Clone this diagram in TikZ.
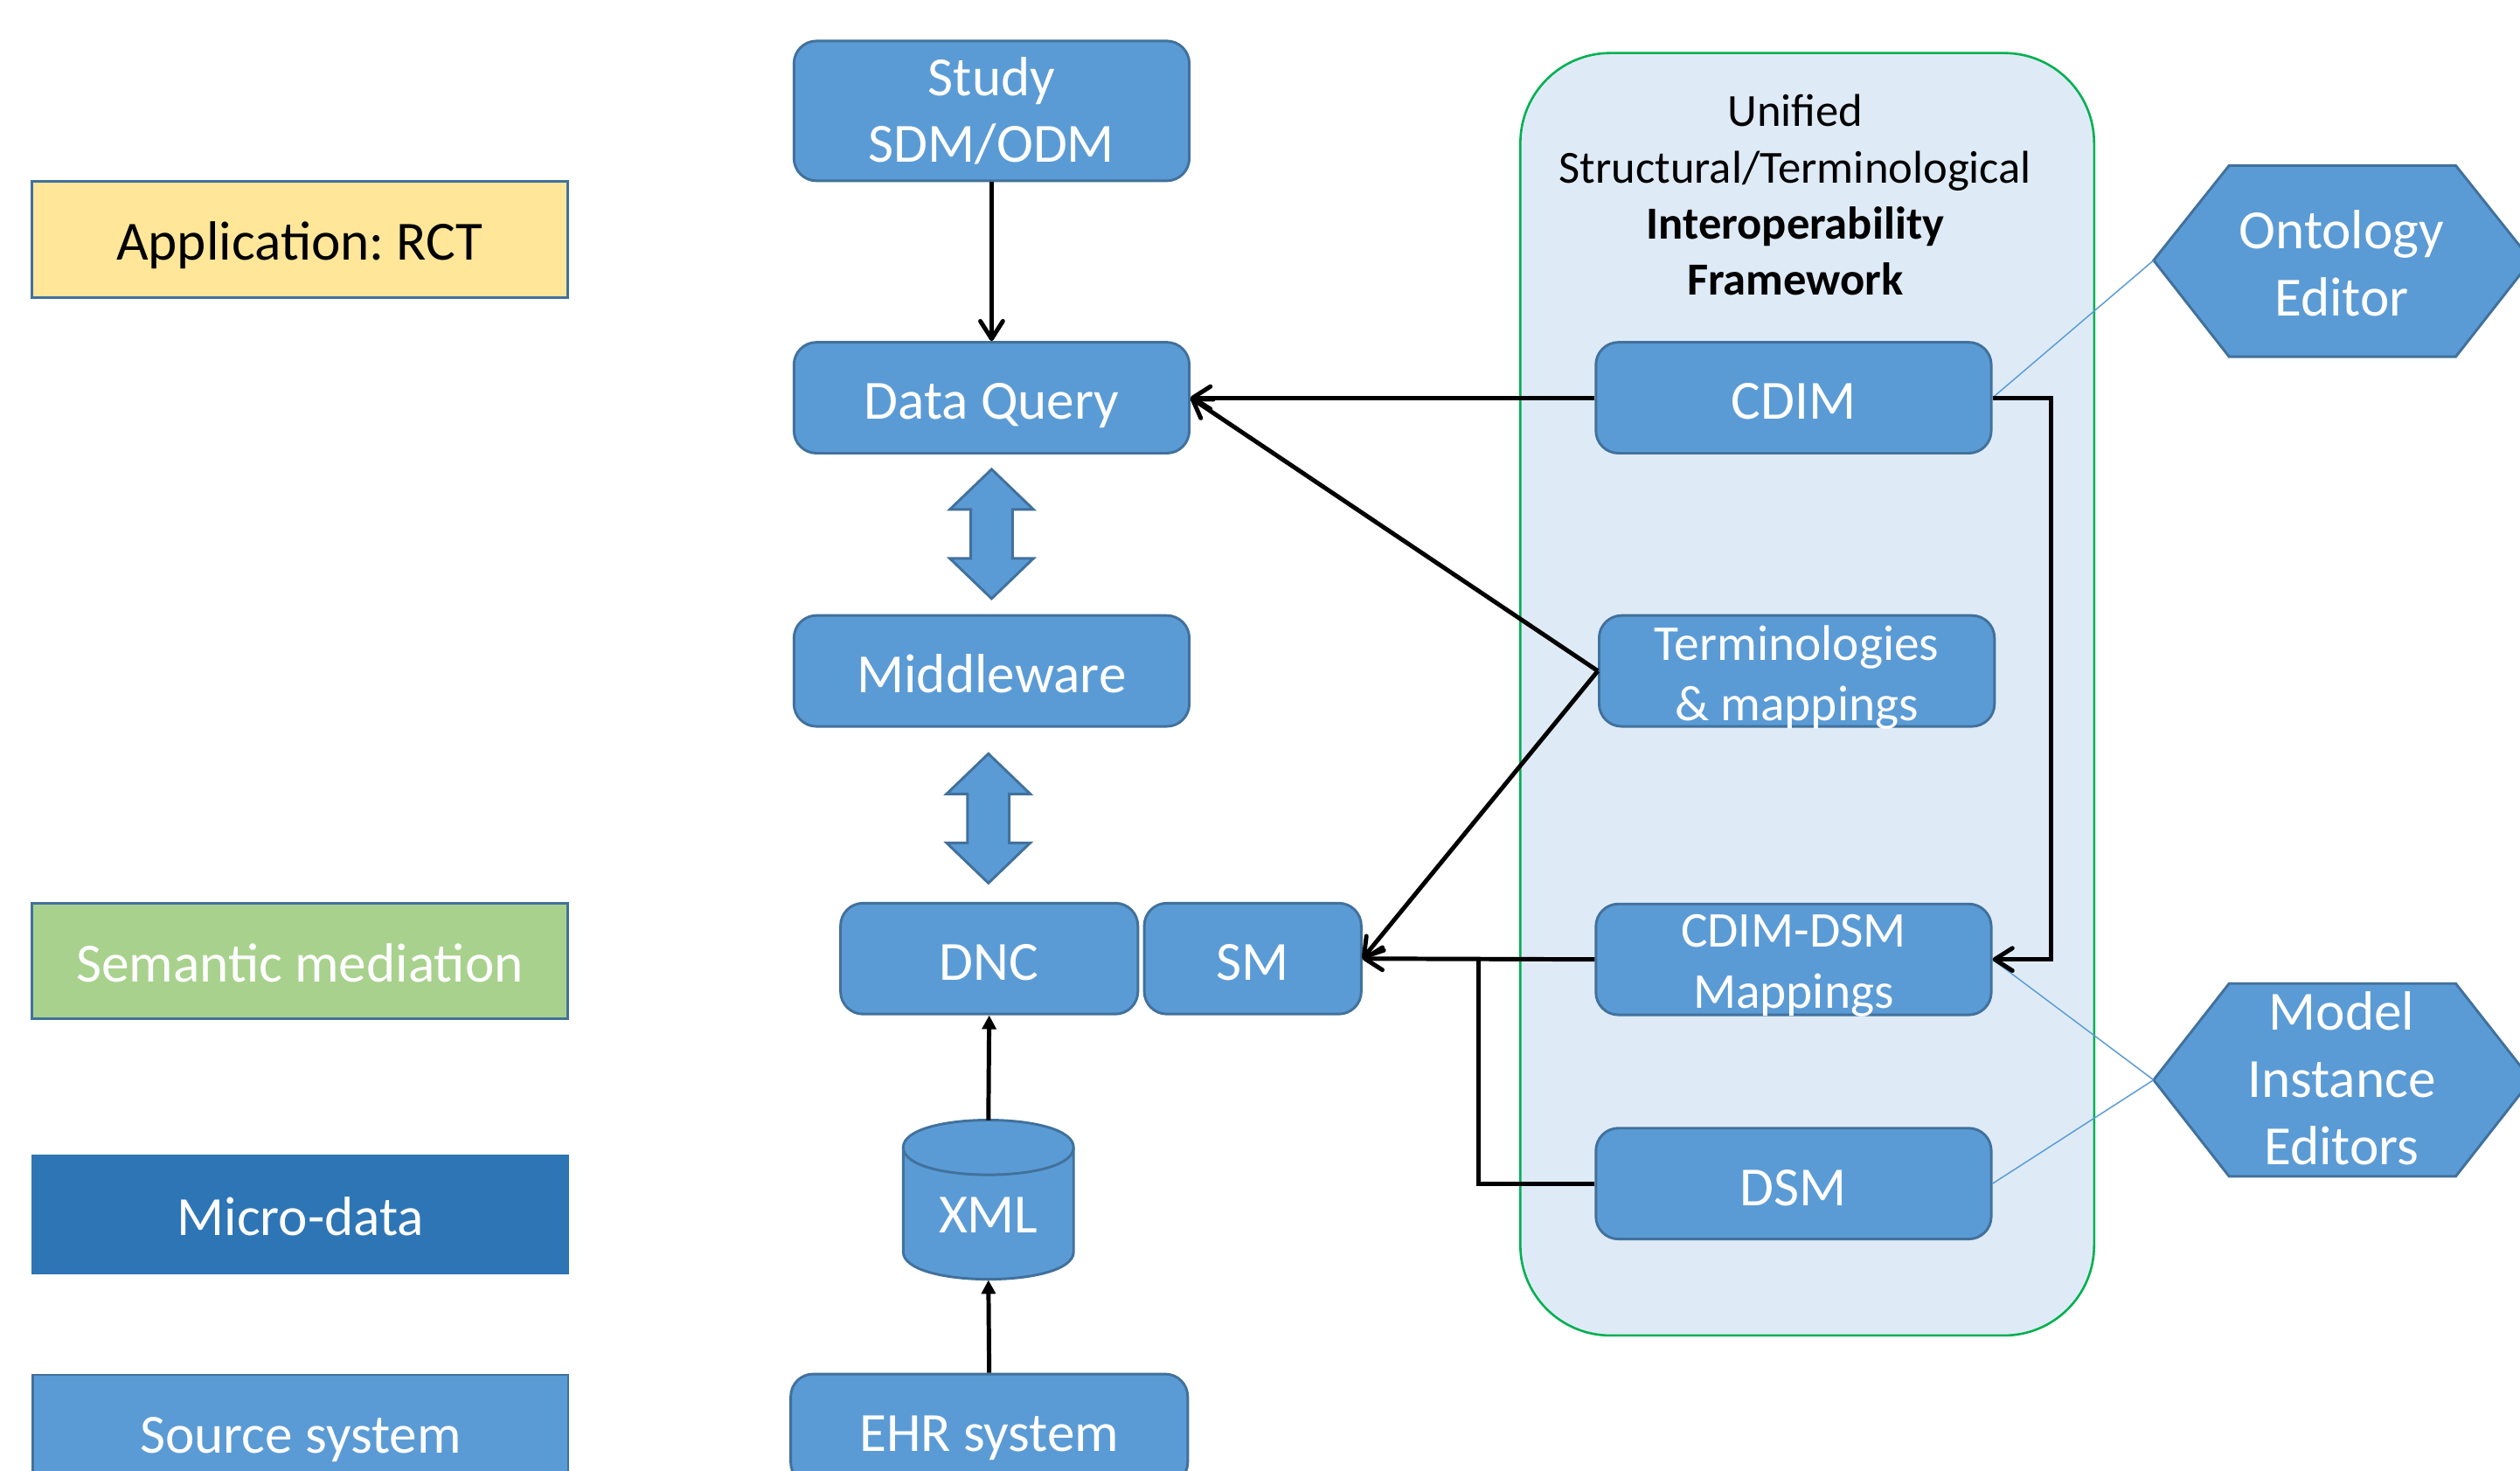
\documentclass[tikz,border=0pt]{standalone}
\usepackage{fontspec}
\setmainfont{Carlito}
\frenchspacing
\usetikzlibrary{arrows.meta}
\definecolor{boxfill}{HTML}{5B9BD5}
\definecolor{boxline}{HTML}{41719C}
\definecolor{appyellow}{HTML}{FFE699}
\definecolor{semgreen}{HTML}{A9D18E}
\definecolor{microblue}{HTML}{2E75B6}
\definecolor{contfill}{HTML}{DEEBF7}
\definecolor{contline}{HTML}{00B050}
\tikzset{
  box/.style={draw=boxline, fill=boxfill, rounded corners=7pt, line width=0.8pt, text=white,
    font=\fontsize{17.2}{20.5}\selectfont, align=center, inner sep=0pt, minimum height=34.5pt},
  oneline/.style={text height=13.5pt, text depth=0pt},
  boxtext/.style={text=white, align=center, inner sep=0pt, font=\fontsize{15.6}{19}\selectfont},
  legend/.style={draw=boxline, line width=0.8pt, font=\fontsize{17.2}{20.5}\selectfont,
    inner sep=0pt, minimum width=166.5pt, minimum height=36pt, text height=12.8pt, text depth=0pt},
  hexa/.style={draw=boxline, fill=boxfill, line width=0.8pt},
  hextext/.style={text=white, align=center, font=\fontsize{17.2}{21}\selectfont, inner sep=0pt},
  conn/.style={line width=1.35pt, -{Straight Barb[length=5.5pt,width=7pt,round]}},
  plain/.style={line width=1.35pt},
  smallconn/.style={line width=1.35pt, -{Triangle[length=4.3pt,width=4.3pt]}},
  thinline/.style={draw=boxfill, line width=0.4pt},
  dblarrow/.style={draw=boxline, fill=boxfill, line width=0.8pt}
}
\begin{document}
\begin{tikzpicture}[x=0.5pt,y=-0.5pt]
\clip (0,0) rectangle (1568,915);
\fill[white] (0,0) rectangle (1568,915);

% container
\draw[fill=contfill, draw=contline, line width=0.7pt, rounded corners=28pt] (946,33) rectangle (1303,831);
\node[align=center, font=\fontsize{14.3}{17.5}\selectfont, inner sep=0pt] (ctitle) at (1117,121.5)
  {Unified\\Structural/Terminological\\\textbf{Interoperability}\\\textbf{Framework}};

% legend boxes
\node[legend, fill=appyellow] (app) at (186.5,149) {Application: RCT};
\node[legend, fill=semgreen, text=white] (sem) at (186.5,598) {Semantic mediation};
\node[legend, fill=microblue, text=white, draw=microblue, minimum height=36.5pt, text height=13.5pt] (micro) at (187,755.5) {Micro-data};
\node[legend, fill=boxfill, text=white] (src) at (187,891.5) {Source system};

% main column
\node[box, minimum width=123pt, minimum height=43.5pt] (study) at (617,69) {Study\\SDM/ODM};
\node[box, oneline, minimum width=123pt] (dq) at (617,247.5) {Data Query};
\node[box, oneline, minimum width=123pt] (mw) at (617,417.5) {Middleware};
\node[box, oneline, minimum width=92.5pt] (dnc) at (615.5,596.5) {DNC};
\node[box, oneline, minimum width=67.5pt] (sm) at (779.5,596.5) {SM};
\node[box, oneline, minimum width=123.5pt] (ehr) at (615.5,889.5) {EHR system};

% double arrows
\draw[dblarrow] (617,292) -- (643,317) -- (630,317) -- (630,347.5) -- (643,347.5) -- (617,372.5)
  -- (591,347.5) -- (604,347.5) -- (604,317) -- (591,317) -- cycle;
\draw[dblarrow] (615,469) -- (641,494) -- (628,494) -- (628,524.5) -- (641,524.5) -- (615,549.5)
  -- (589,524.5) -- (602,524.5) -- (602,494) -- (589,494) -- cycle;

% XML cylinder
\draw[dblarrow] (562,714) -- (562,779) .. controls (562,801.7) and (668,801.7) .. (668,779)
  -- (668,714) .. controls (668,691.3) and (562,691.3) .. (562,714) -- cycle;
\draw[draw=boxline, line width=0.8pt] (562,714) .. controls (562,736.7) and (668,736.7) .. (668,714);
\node[text=white, font=\fontsize{17.2}{20.5}\selectfont, inner sep=0pt] (xml) at (615,756) {XML};
\coordinate (xmltop) at (615,697);
\coordinate (xmlbot) at (615,796.5);

% framework boxes
\node[box, oneline, minimum width=123pt] (cdim) at (1116,247.5) {CDIM};
\node[box, minimum width=123pt] (term) at (1118,417.5) {};
\node[boxtext] (termtext) at ([yshift=-2pt]term.center) {Terminologies\\\& mappings};
\node[box, minimum width=123pt] (cdimdsm) at (1116,597) {};
\node[boxtext] (cdimdsmtext) at ([yshift=-2pt]cdimdsm.center) {CDIM-DSM\\Mappings};
\node[box, oneline, minimum width=123pt] (dsm) at (1116,736.5) {DSM};

% hexagons
\draw[hexa] (1340,162) -- (1387,103) -- (1528,103) -- (1575,162) -- (1528,222) -- (1387,222) -- cycle;
\node[hextext] (onto) at (1457,164) {Ontology\\Editor};
\coordinate (ontoL) at (1340,162);
\draw[hexa] (1340,672) -- (1387,612) -- (1528,612) -- (1575,672) -- (1528,732) -- (1387,732) -- cycle;
\node[hextext] (mie) at (1457,671) {Model\\Instance\\Editors};
\coordinate (mieL) at (1340,672);

% thin lines
\draw[thinline] (cdim.east) -- (ontoL);
\draw[thinline] (cdimdsm.east) -- (mieL);
\draw[thinline] (dsm.east) -- (mieL);

% connectors
\draw[conn] (study.south) -- (dq.north);
\draw[conn] (cdim.west) -- (dq.east);
\draw[conn] (term.west) -- (dq.east);
\draw[conn] (term.west) -- (sm.east);
\coordinate (rgt) at (1276,247.5);
\draw[conn] (cdim.east) -- (rgt) |- (cdimdsm.east);
\draw[conn] (cdimdsm.west) -- (sm.east);
\coordinate (jn) at (920,597);
\draw[plain] (dsm.west) -| (jn);
\draw[smallconn] (xmltop) -- (dnc.south);
\draw[smallconn] (ehr.north) -- (xmlbot);
\end{tikzpicture}
\end{document}
